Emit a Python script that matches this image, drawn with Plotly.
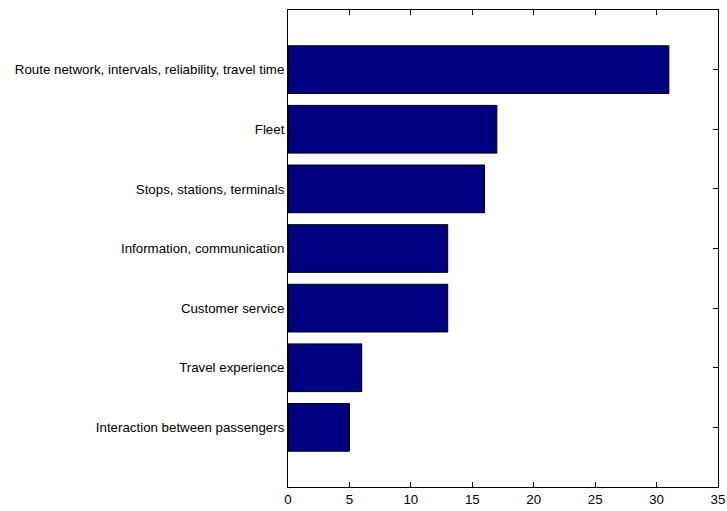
import plotly.graph_objects as go

categories = [
    "Interaction between passengers",
    "Travel experience",
    "Customer service",
    "Information, communication",
    "Stops, stations, terminals",
    "Fleet",
    "Route network, intervals, reliability, travel time",
]
values = [5, 6, 13, 13, 16, 17, 31]
positions = list(range(1, len(categories) + 1))
x_ticks = [0, 5, 10, 15, 20, 25, 30, 35]

fig = go.Figure(
    go.Bar(
        x=values,
        y=positions,
        orientation="h",
        width=0.8,
        marker=dict(color="#000080", line=dict(color="black", width=1)),
    )
)

fig.update_layout(
    template="none",
    width=727,
    height=511,
    margin=dict(l=288, r=9, t=10, b=24, pad=0),
    paper_bgcolor="white",
    plot_bgcolor="white",
    font=dict(family="Liberation Sans, Arial, sans-serif", size=13.3, color="black"),
    showlegend=False,
)
fig.update_xaxes(
    automargin=False,
    range=[0, 35],
    tickvals=x_ticks,
    ticks="inside",
    ticklen=5,
    tickcolor="black",
    showline=True,
    linecolor="black",
    linewidth=1,
    mirror="ticks",
    showgrid=False,
    zeroline=False,
)
fig.update_yaxes(
    automargin=False,
    range=[0, 8],
    tickvals=positions,
    ticktext=categories,
    ticks="inside",
    ticklen=5,
    tickcolor="black",
    showline=True,
    linecolor="black",
    linewidth=1,
    mirror="ticks",
    showgrid=False,
    zeroline=False,
    layer="below traces",
)

fig.write_html(
    "out.html",
    config={"displayModeBar": False},
    post_script="document.body.style.margin='0';document.body.style.overflow='hidden';",
)
